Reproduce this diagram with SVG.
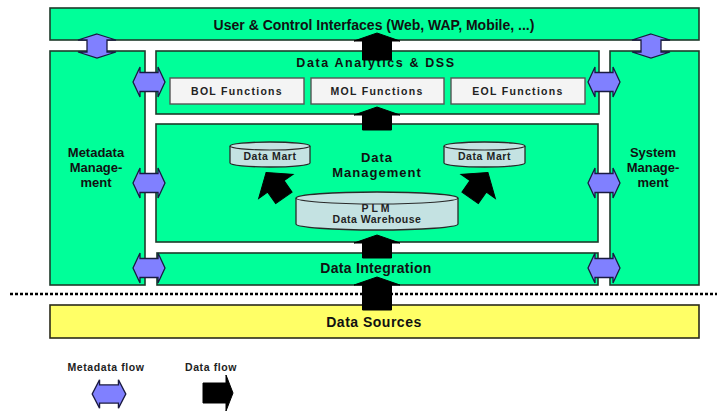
<svg xmlns="http://www.w3.org/2000/svg" width="717" height="412" viewBox="0 0 717 412">
<style>
.g{fill:#00FF99;stroke:#1e3b2b;stroke-width:1.6}
.f{fill:#F4F4F4;stroke:#555;stroke-width:1.4}
.cy{fill:#C4E2E2;stroke:#2a2a2a;stroke-width:1.3}
.m{fill:#8080FF;stroke:#1a1a40;stroke-width:1.3}
.d{fill:#000;stroke:#000;stroke-width:1}
.t{font-family:"Liberation Sans",Arial,sans-serif;font-weight:bold;fill:#111;text-anchor:middle}
.s{font-family:"Liberation Sans",Arial,sans-serif;font-weight:bold;fill:#222;text-anchor:middle;font-size:10.5px}
</style>
<defs>
<path id="mh" d="M-16,0 L-9,-15 L-9,-9.5 L9,-9.5 L9,-15 L16,0 L9,15 L9,9.5 L-9,9.5 L-9,15 Z"/>
<path id="mv" d="M0,-12 L19,-6 L10,-6 L10,6 L19,6 L0,12 L-19,6 L-10,6 L-10,-6 L-19,-6 Z"/>
<path id="fat" d="M0,-19 L21,-2 L10,-2 L10,12 L-10,12 L-10,-2 L-21,-2 Z"/>
</defs>
<rect width="717" height="412" fill="#fff"/>

<g id="ui">
<rect class="g" x="50" y="8" width="649" height="32"/>
<text class="t" x="374" y="30" font-size="14">User &amp; Control Interfaces (Web, WAP, Mobile, ...)</text>
</g>

<g id="metadata">
<rect class="g" x="50" y="51" width="95" height="234"/>
<text class="t" font-size="13"><tspan x="96" y="157">Metadata</tspan><tspan x="96" y="172">Manage-</tspan><tspan x="96" y="187">ment</tspan></text>
</g>

<g id="system">
<rect class="g" x="610" y="51" width="89" height="234"/>
<text class="t" font-size="13"><tspan x="653" y="157">System</tspan><tspan x="653" y="172">Manage-</tspan><tspan x="653" y="187">ment</tspan></text>
</g>

<g id="analytics">
<rect class="g" x="156" y="51" width="443" height="63"/>
<text class="t" x="376" y="67" font-size="12.5" letter-spacing="1.6">Data Analytics &amp; DSS</text>
</g>
<g id="bol">
<rect class="f" x="170" y="78" width="134" height="26"/>
<text class="s" x="237" y="95" letter-spacing="1.3">BOL Functions</text>
</g>
<g id="mol">
<rect class="f" x="311" y="78" width="133" height="26"/>
<text class="s" x="377" y="95" letter-spacing="1.3">MOL Functions</text>
</g>
<g id="eol">
<rect class="f" x="451" y="78" width="134" height="26"/>
<text class="s" x="518" y="95" letter-spacing="1.3">EOL Functions</text>
</g>

<g id="datamgmt">
<rect class="g" x="156" y="124" width="442" height="118"/>
<text class="t" font-size="13" letter-spacing="1"><tspan x="377" y="162">Data</tspan><tspan x="377" y="177">Management</tspan></text>
</g>
<g id="mart1">
<path class="cy" d="M230,146 A40,4 0 0 1 310,146 L310,163 A40,4 0 0 1 230,163 Z"/>
<path d="M230,146 A40,4 0 0 0 310,146" fill="none" stroke="#2a2a2a" stroke-width="1.2"/>
<text class="s" x="270" y="160" font-size="11.5" letter-spacing="0.6">Data Mart</text>
</g>
<g id="mart2">
<path class="cy" d="M444,146 A40.5,4 0 0 1 525,146 L525,163 A40.5,4 0 0 1 444,163 Z"/>
<path d="M444,146 A40.5,4 0 0 0 525,146" fill="none" stroke="#2a2a2a" stroke-width="1.2"/>
<text class="s" x="484.5" y="160" font-size="11.5" letter-spacing="0.6">Data Mart</text>
</g>
<g id="warehouse">
<path class="cy" d="M296,198 A81,6 0 0 1 458,198 L458,224 A81,6 0 0 1 296,224 Z"/>
<path d="M296,198 A81,6 0 0 0 458,198" fill="none" stroke="#2a2a2a" stroke-width="1.2"/>
<text class="s" x="377" y="212" font-size="11" letter-spacing="3">PLM</text>
<text class="s" x="377" y="223" font-size="11.5" letter-spacing="0.5">Data Warehouse</text>
</g>

<g id="integration">
<rect class="g" x="157" y="253" width="441" height="32"/>
<text class="t" x="376" y="273" font-size="14" letter-spacing="0.3">Data Integration</text>
</g>

<g id="sources">
<rect x="50" y="305" width="649" height="33" fill="#FFFF66" stroke="#2b2b1a" stroke-width="1.6"/>
<text class="t" x="374" y="327" font-size="14" letter-spacing="0.5">Data Sources</text>
</g>

<line x1="10" y1="294" x2="717" y2="294" stroke="#000" stroke-width="2.5" stroke-dasharray="3 2"/>

<g id="connectors">
<path class="d" d="M377,33 L400,41 L391.5,41 L391.5,60 L362.5,60 L362.5,41 L354,41 Z"/>
<path class="d" d="M377,107 L400,115 L391.5,115 L391.5,130 L362.5,130 L362.5,115 L354,115 Z"/>
<path class="d" d="M377,235 L400,243 L391.5,243 L391.5,258 L362.5,258 L362.5,243 L354,243 Z"/>
<path class="d" d="M377,277 L400,285 L391.5,285 L391.5,310 L362.5,310 L362.5,285 L354,285 Z"/>
<use href="#fat" class="d" transform="translate(277,188) rotate(-35)"/>
<use href="#fat" class="d" transform="translate(477,188) rotate(35)"/>
<use href="#mv" class="m" x="97" y="46"/>
<use href="#mv" class="m" x="651" y="46"/>
<use href="#mh" class="m" x="149" y="82"/>
<use href="#mh" class="m" x="149" y="183"/>
<use href="#mh" class="m" x="149" y="268"/>
<use href="#mh" class="m" x="604" y="82"/>
<use href="#mh" class="m" x="604" y="183"/>
<use href="#mh" class="m" x="604" y="268"/>
</g>

<g id="legend">
<text class="s" x="106" y="371" font-size="11.5" letter-spacing="0.6">Metadata flow</text>
<text class="s" x="211" y="371" font-size="11.5" letter-spacing="0.6">Data flow</text>
<use href="#mh" class="m" transform="translate(109,394) scale(1.05,0.95)"/>
<path class="d" d="M203,383 L226,383 L226,375 L233,393 L226,411 L226,403 L203,403 Z"/>
</g>
</svg>
